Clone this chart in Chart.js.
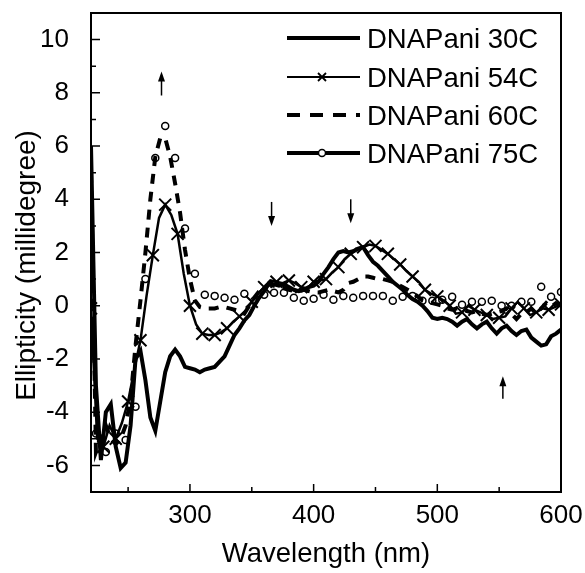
<!DOCTYPE html>
<html>
<head>
<meta charset="utf-8">
<script src="https://cdn.jsdelivr.net/npm/chart.js@4.4.1/dist/chart.umd.min.js"></script>
<style>
  html, body { margin: 0; padding: 0; background: #fff; }
  #wrap { width: 585px; height: 573px; }
</style>
</head>
<body>
<div id="wrap"><canvas id="cdChart" width="585" height="573"></canvas></div>
<script>
// wavelength grids (nm)
var wl4 = [220,224,228,232,236,240,244,248,252,256,260,264,268,272,276,280,284,288,292,296,
  300,304,308,312,316,320,324,328,332,336,340,344,348,352,356,360,364,368,372,376,
  380,384,388,392,396,400,404,408,412,416,420,424,428,432,436,440,444,448,452,456,
  460,464,468,472,476,480,484,488,492,496,500,504,508,512,516,520,524,528,532,536,
  540,544,548,552,556,560,564,568,572,576,580,584,588,592,596,600];
var wl5 = [220,225,230,235,240,245,250,255,260,265,270,275,280,285,290,295,300,305,310,315,
  320,325,330,335,340,345,350,355,360,365,370,375,380,385,390,395,400,405,410,415,
  420,425,430,435,440,445,450,455,460,465,470,475,480,485,490,495,500,505,510,515,
  520,525,530,535,540,545,550,555,560,565,570,575,580,585,590,595,600];
var wl8 = [224,232,240,248,256,264,272,280,288,296,304,312,320,328,336,344,352,360,368,376,
  384,392,400,408,416,424,432,440,448,456,464,472,480,488,496,504,512,520,528,536,
  544,552,560,568,576,584,592,600];

// ellipticity (millidegree)
var dna30 = [6.0,-3.0,-5.8,-4.0,-3.7,-5.3,-6.1,-5.9,-4.5,-2.0,-1.7,-2.8,-4.2,-4.7,-3.6,-2.5,-1.9,-1.65,-1.9,-2.3,
  -2.35,-2.4,-2.5,-2.4,-2.35,-2.3,-2.1,-1.9,-1.5,-1.1,-0.85,-0.55,-0.35,0.0,0.3,0.55,0.85,0.8,0.75,0.8,
  0.7,0.6,0.55,0.6,0.7,0.75,0.9,1.2,1.45,1.75,2.0,2.05,2.0,2.05,2.15,2.2,1.9,1.65,1.5,1.3,
  1.1,0.9,0.75,0.6,0.4,0.25,0.15,0.0,-0.2,-0.45,-0.5,-0.45,-0.5,-0.6,-0.75,-0.6,-0.5,-0.7,-0.85,-0.7,
  -0.6,-0.85,-1.05,-0.85,-0.75,-0.95,-1.1,-0.95,-0.9,-1.2,-1.35,-1.5,-1.45,-1.15,-1.05,-0.9];
var dna54 = [-0.1,-5.0,-5.3,-4.5,-5.0,-4.4,-3.6,-2.4,-1.3,0.4,1.9,3.3,3.8,3.4,2.7,1.2,0.0,-0.7,-1.05,-1.1,
  -1.1,-1.0,-0.85,-0.6,-0.4,-0.2,0.15,0.45,0.7,0.95,0.9,0.85,0.95,0.85,0.7,0.65,0.9,0.95,1.0,1.25,
  1.45,1.75,1.95,2.1,2.2,2.3,2.25,2.1,1.95,1.75,1.55,1.3,1.1,0.9,0.6,0.45,0.35,0.2,0.0,-0.3,
  -0.25,0.0,-0.15,-0.25,-0.35,-0.5,-0.45,-0.4,-0.1,0.15,-0.1,-0.35,-0.25,-0.1,-0.15,-0.05,0.05];
var dna60 = [5.0,-5.5,-5.0,-4.5,-5.0,-5.2,-5.0,-4.5,-3.5,-1.5,0.2,2.0,4.0,5.6,6.3,6.3,5.6,4.6,3.5,2.1,
  1.0,0.2,-0.05,-0.1,-0.1,-0.1,-0.05,-0.05,-0.1,-0.15,-0.2,-0.3,0.0,0.3,0.55,0.7,0.8,0.75,0.7,0.65,
  0.6,0.55,0.55,0.6,0.55,0.5,0.5,0.55,0.6,0.55,0.5,0.6,0.85,0.9,1.0,1.1,1.1,1.05,1.0,1.0,
  0.95,0.9,0.8,0.7,0.6,0.5,0.35,0.2,0.15,0.1,0.05,0.0,-0.1,-0.15,-0.1,-0.15,-0.2,-0.25,-0.2,-0.3,
  -0.35,-0.3,-0.25,-0.2,-0.1,-0.3,-0.5,-0.3,-0.25,-0.1,-0.3,-0.1,0.1,-0.05,0.1,0.0];
var dna75 = [-4.8,-5.5,-4.8,-5.05,-3.8,1.0,5.55,6.75,5.55,2.9,1.2,0.41,0.37,0.3,0.22,0.45,0.19,0.41,0.49,0.49,
  0.3,0.19,0.26,0.41,0.22,0.37,0.3,0.37,0.37,0.37,0.19,0.34,0.37,0.19,0.19,0.22,0.34,0.04,0.15,0.15,
  0.19,0,0,0.15,0.15,0.71,0.34,0.52];

var seriesNames = ['DNAPani 30C', 'DNAPani 54C', 'DNAPani 60C', 'DNAPani 75C'];

// axis ticks
var xTickVals = [300, 400, 500, 600];
var xMinorVals = [250, 350, 450, 550];
var yTickVals = [-6, -4, -2, 0, 2, 4, 6, 8, 10];
var yMinorVals = [-5, -3, -1, 1, 3, 5, 7, 9];

// arrows marking the changes (wavelength, tail, head)
var arrows = [
  { x: 277, from: 7.9, to: 8.8 },
  { x: 366, from: 3.9, to: 3.0 },
  { x: 430, from: 4.0, to: 3.1 },
  { x: 553, from: -3.5, to: -2.65 }
];

var FONT = "'Liberation Sans', Arial, sans-serif";

function pairs(xs, ys) {
  return xs.map(function (x, i) { return { x: x, y: ys[i] }; });
}

function drawX(c, x, y, r) {
  c.beginPath();
  c.moveTo(x - r, y - r); c.lineTo(x + r, y + r);
  c.moveTo(x - r, y + r); c.lineTo(x + r, y - r);
  c.stroke();
}

function noPad(s) {
  s.paddingTop = 0; s.paddingBottom = 0;
  s.paddingLeft = 0; s.paddingRight = 0;
}

// frame, inward ticks, arrows, y title and the legend
var extrasPlugin = {
  id: 'extras',
  afterDraw: function (chart) {
    var c = chart.ctx, a = chart.chartArea;
    var xs = chart.scales.x, ys = chart.scales.y;
    c.save();
    c.strokeStyle = '#000';
    c.fillStyle = '#000';

    c.lineWidth = 2;
    c.strokeRect(a.left, a.top, a.right - a.left, a.bottom - a.top);

    c.lineWidth = 1.5;
    c.beginPath();
    yTickVals.forEach(function (v) {
      var p = ys.getPixelForValue(v);
      c.moveTo(a.left, p); c.lineTo(a.left + 9, p);
    });
    yMinorVals.forEach(function (v) {
      var p = ys.getPixelForValue(v);
      c.moveTo(a.left, p); c.lineTo(a.left + 5, p);
    });
    xTickVals.forEach(function (v) {
      var p = xs.getPixelForValue(v);
      c.moveTo(p, a.bottom); c.lineTo(p, a.bottom - 8);
    });
    xMinorVals.forEach(function (v) {
      var p = xs.getPixelForValue(v);
      c.moveTo(p, a.bottom); c.lineTo(p, a.bottom - 5);
    });
    c.stroke();

    // arrows
    arrows.forEach(function (ar) {
      var px = xs.getPixelForValue(ar.x);
      var p0 = ys.getPixelForValue(ar.from), p1 = ys.getPixelForValue(ar.to);
      var dir = p1 < p0 ? 1 : -1;
      c.lineWidth = 1.5;
      c.beginPath();
      c.moveTo(px, p0); c.lineTo(px, p1 + dir * 6);
      c.stroke();
      c.beginPath();
      c.moveTo(px, p1);
      c.lineTo(px - 3.5, p1 + dir * 10);
      c.lineTo(px + 3.5, p1 + dir * 10);
      c.closePath();
      c.fill();
    });

    // y axis title
    c.save();
    c.translate(27, (a.top + a.bottom) / 2 + 13);
    c.rotate(-Math.PI / 2);
    c.font = '28px ' + FONT;
    c.textAlign = 'center';
    c.textBaseline = 'middle';
    c.fillText('Ellipticity (millidegree)', 0, 0);
    c.restore();

    // legend
    var rows = [38, 77, 115, 153];
    var x0 = 287, x1 = 360, xm = 322, xt = 367;
    c.font = '27.5px ' + FONT;
    c.textBaseline = 'middle';
    c.textAlign = 'left';
    rows.forEach(function (y, i) {
      c.setLineDash(i === 2 ? [13, 10] : []);
      c.lineWidth = i === 1 ? 2.2 : 3.8;
      c.beginPath();
      c.moveTo(x0, y); c.lineTo(x1, y);
      c.stroke();
      c.setLineDash([]);
      if (i === 1) { c.lineWidth = 1.8; drawX(c, xm, y, 4); }
      if (i === 3) {
        c.lineWidth = 1.5;
        c.beginPath(); c.arc(xm, y, 3.5, 0, Math.PI * 2);
        c.fillStyle = '#fff'; c.fill(); c.stroke(); c.fillStyle = '#000';
      }
      c.fillText(seriesNames[i], xt, y + 2);
    });
    c.restore();
  }
};

var ctx = document.getElementById('cdChart').getContext('2d');
var cdChart = new Chart(ctx, {
  type: 'line',
  data: {
    datasets: [{
      label: seriesNames[0],
      data: pairs(wl4, dna30),
      borderColor: '#000',
      borderWidth: 4,
      pointRadius: 0,
      tension: 0
    }, {
      label: seriesNames[1],
      data: pairs(wl5, dna54),
      borderColor: '#000',
      borderWidth: 2.5,
      pointStyle: 'crossRot',
      pointRadius: function (c) { return c.dataIndex % 2 === 0 ? 8.5 : 0; },
      pointBorderWidth: 2,
      pointBorderColor: '#000',
      tension: 0
    }, {
      label: seriesNames[2],
      data: pairs(wl4, dna60),
      borderColor: '#000',
      borderWidth: 4,
      borderDash: [10, 8],
      pointRadius: 0,
      tension: 0
    }, {
      label: seriesNames[3],
      data: pairs(wl8, dna75),
      showLine: false,
      pointStyle: 'circle',
      pointRadius: 3.5,
      pointBorderWidth: 1.5,
      pointBorderColor: '#000',
      pointBackgroundColor: '#fff'
    }]
  },
  options: {
    responsive: false,
    animation: false,
    layout: { padding: { top: 13, right: 24, left: 0, bottom: 0 } },
    plugins: { legend: { display: false }, tooltip: { enabled: false } },
    scales: {
      x: {
        type: 'linear',
        min: 220,
        max: 600,
        afterBuildTicks: function (s) { s.ticks = xTickVals.map(function (v) { return { value: v }; }); },
        afterFit: function (s) { s.height = 81; noPad(s); },
        grid: { display: false, drawTicks: false },
        border: { display: false },
        ticks: { color: '#000', padding: 8, maxRotation: 0, autoSkip: false, font: { family: FONT, size: 26 } },
        title: { display: true, text: 'Wavelength (nm)', color: '#000', padding: { top: 0, bottom: 2 }, font: { family: FONT, size: 27.5 } }
      },
      y: {
        min: -7,
        max: 11,
        afterBuildTicks: function (s) { s.ticks = yTickVals.map(function (v) { return { value: v }; }); },
        afterFit: function (s) { s.width = 91; noPad(s); },
        grid: { display: false, drawTicks: false },
        border: { display: false },
        ticks: { color: '#000', padding: 22, autoSkip: false, font: { family: FONT, size: 26 } }
      }
    }
  },
  plugins: [extrasPlugin]
});
</script>
</body>
</html>
